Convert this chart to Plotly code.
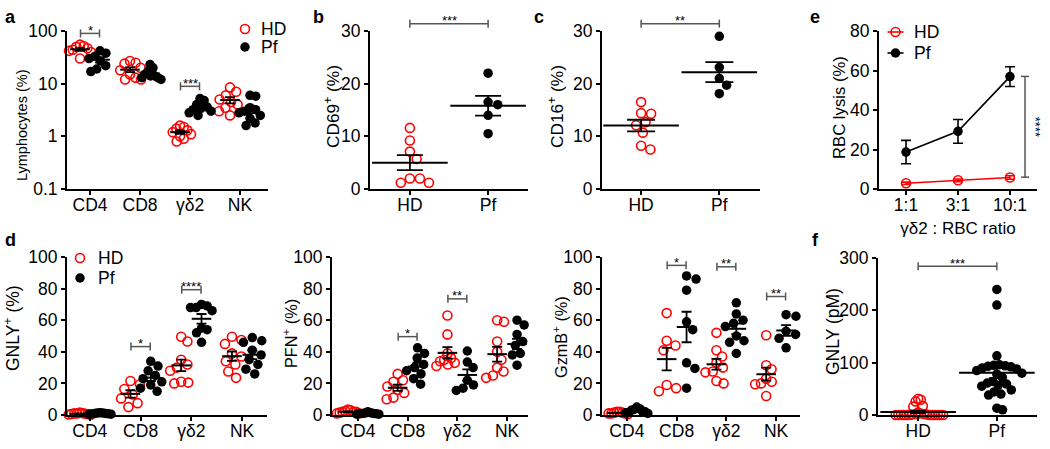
import numpy as np
import plotly.graph_objects as go

W, H = 1050, 449
RED = "#ff0000"
BLACK = "#000000"
GREY = "#555555"
FONT = "Liberation Sans, Arial, Helvetica, sans-serif"

cells = ["CD4", "CD8", "γδ2", "NK"]
donors = ["HD", "Pf"]
ratios = ["1:1", "3:1", "10:1"]

# a: lymphocyte frequencies (%), one list per cell type
lymph_hd = [
    [55, 52, 50, 47, 44, 42, 40, 30],
    [27, 25, 24, 20, 18, 15, 13, 12, 12],
    [1.6, 1.5, 1.4, 1.3, 1.2, 1.1, 1.0, 0.9, 0.8],
    [8.5, 7, 6, 5, 4.5, 4, 3.5, 3, 2.5],
]
lymph_pf = [
    [42, 38, 33, 30, 27, 22, 19, 17],
    [23, 20, 17, 15, 14, 14, 13, 13, 12],
    [5.2, 4.8, 4.0, 3.6, 3.4, 3.2, 3.0, 2.8, 2.5],
    [6, 5.8, 3.5, 3.2, 3, 2.8, 2.5, 2.2, 1.8, 1.6],
]

# b: CD69+ (%)
cd69_hd = [9.2, 11.6, 7.1, 5.7, 2.0, 1.2, 1.2, 2.0]
cd69_pf = [22.0, 16.5, 16.0, 14.0, 10.5]

# c: CD16+ (%)
cd16_hd = [16.5, 14.3, 14.4, 12.1, 12.7, 10.7, 8.2, 7.5]
cd16_pf = [29.0, 23.1, 21.0, 19.7, 18.1]

# e: RBC lysis (%), mean and SEM per effector : target ratio
lysis_hd = [2.9, 4.4, 5.8]
lysis_hd_sem = [0.6, 0.7, 0.9]
lysis_pf = [18.7, 29.2, 56.9]
lysis_pf_sem = [5.9, 6.0, 5.0]

# d: cytotoxic granule proteins (%), one list per cell type
gnly_hd = [
    [0.5, 1.0, 1.5, 0.3, 0.8, 1.2, 0.2, 0.6, 1.0],
    [21.5, 19.5, 16.5, 13, 10.5, 7.5, 5],
    [49.5, 46.5, 35, 32, 30, 28, 21, 20.5, 20],
    [49.5, 47.5, 45, 39, 37, 34, 32, 27.5, 23.5],
]
gnly_pf = [
    [0.5, 1.0, 1.2, 0.8, 1.5, 0.4, 1.0, 0.7, 1.3],
    [34, 31, 28, 25, 23, 21, 19, 17, 15],
    [70, 69, 68, 68, 66, 55, 54, 52, 46],
    [49, 47, 46, 41, 38, 35, 32, 29, 26],
]
pfn_hd = [
    [1, 2, 3, 2.5, 1.5, 2, 1, 3.5, 2],
    [26, 22, 21, 18, 16, 14, 11, 10],
    [63, 51, 39, 36, 35, 34, 33, 32, 31],
    [60, 59, 46.5, 40, 35, 30, 27.5, 25, 23.5],
]
pfn_pf = [
    [1, 0.5, 1.5, 2, 1, 0.5, 1, 0.8, 1.2],
    [42.5, 39, 36, 32, 30, 28, 26, 23, 19.5],
    [40.5, 33.5, 30, 22, 19, 17, 15.5],
    [60, 57, 51, 46.5, 44, 39, 38, 37.5, 31.5],
]
gzmb_hd = [
    [1, 2, 1.5, 1, 0.5, 2, 1, 1.5],
    [64.5, 47, 44, 41, 19, 17, 15],
    [52, 41, 37, 33, 30, 27.5, 27, 21.5, 20],
    [50.5, 31.5, 29, 23, 21, 20, 19.5, 12],
]
gzmb_pf = [
    [5, 4, 3.5, 3, 2.5, 2, 1.5, 1.5, 1],
    [88, 86, 79, 59, 54, 33, 29.5, 17],
    [71, 64, 60, 58, 56, 50, 47, 46, 39],
    [63.5, 62.5, 53, 51, 48.5, 42.5],
]

# f: plasma GNLY (pM)
plasma_hd = [0, 0, 0, 0, 0, 0, 0, 0, 0, 0, 0, 0, 1, 1, 2, 2, 3, 5, 16, 17, 26, 29, 31]
plasma_pf = [240, 210, 113, 96, 95, 94, 93, 92, 90, 88, 85, 80, 78, 72, 64,
             61, 59, 57, 55, 48, 44, 40, 38, 13, 10]

# plot areas in pixels: left, right, top, bottom
P = {
    "a": dict(n=1, box=(67, 268, 31, 189), xr=[-0.46, 3.56], yr=[-1, 2], log=True),
    "b": dict(n=2, box=(370, 528, 31, 189), xr=[-0.51, 1.51], yr=[0, 30]),
    "c": dict(n=3, box=(602, 760, 31, 189), xr=[-0.5, 1.52], yr=[0, 30]),
    "e": dict(n=4, box=(879, 1037, 31, 189), xr=[-0.52, 2.52], yr=[0, 80]),
    "d1": dict(n=5, box=(67, 267, 257, 415), xr=[-0.45, 3.49], yr=[0, 100]),
    "d2": dict(n=6, box=(332, 528, 257, 415), xr=[-0.52, 3.42], yr=[0, 100]),
    "d3": dict(n=7, box=(602, 800, 257, 415), xr=[-0.5, 3.48], yr=[0, 100]),
    "f": dict(n=8, box=(878, 1037, 258, 415), xr=[-0.51, 1.51], yr=[0, 300]),
}

MARK = {
    "HD": dict(symbol="circle-open", size=9, color=RED, line=dict(width=1.6, color=RED)),
    "Pf": dict(symbol="circle", size=9.5, color=BLACK, line=dict(width=0)),
}


def refs(p):
    n = p["n"]
    return ("x", "y") if n == 1 else (f"x{n}", f"y{n}")


def ypx(p, v):
    l, r, t, b = p["box"]
    lo, hi = p["yr"]
    u = np.log10(v) if p.get("log") else v
    return b - (u - lo) / (hi - lo) * (b - t)


def xscale(p):
    l, r, t, b = p["box"]
    return (r - l) / (p["xr"][1] - p["xr"][0])


def swarm(ys, diam, maxw):
    """Greedy beeswarm offsets (pixels) for points at pixel heights ys."""
    offs = np.zeros(len(ys))
    placed = []
    for i in np.argsort(ys):
        y = ys[i]
        near = [(px, py) for px, py in placed if abs(py - y) < diam]
        cands = [0.0]
        for px, py in near:
            dx = np.sqrt(diam ** 2 - (py - y) ** 2)
            cands += [px - dx, px + dx]
        cands.sort(key=lambda c: (round(abs(c), 4), c < 0))
        for c in cands:
            if all((c - px) ** 2 + (y - py) ** 2 >= diam ** 2 - 1e-6 for px, py in near):
                offs[i] = c
                break
        placed.append((offs[i], y))
    m = np.abs(offs).max()
    if m > maxw:
        offs *= maxw / m
    return offs


fig = go.Figure()


def dot_panel(key, groups, maxw, mean_w, cap):
    p = P[key]
    xa, ya = refs(p)
    k = xscale(p)
    for name, lists, pos in groups:
        xs, ys, mx, my, se = [], [], [], [], []
        for vals, c in zip(lists, pos):
            off = swarm([ypx(p, v) for v in vals], 10, maxw)
            xs += list(c + off / k)
            ys += list(vals)
            mx.append(c)
            my.append(np.mean(vals))
            se.append(np.std(vals, ddof=1) / np.sqrt(len(vals)))
        fig.add_trace(go.Scatter(
            x=xs, y=ys, mode="markers", name=name, marker=MARK[name],
            xaxis=xa, yaxis=ya, cliponaxis=False, showlegend=False,
        ))
        fig.add_trace(go.Scatter(
            x=mx, y=my, mode="markers", showlegend=False,
            marker=dict(symbol="line-ew", size=mean_w, color=BLACK,
                        line=dict(width=2, color=BLACK)),
            error_y=dict(type="data", array=se, color=BLACK, thickness=1.8, width=cap),
            xaxis=xa, yaxis=ya, cliponaxis=False,
        ))


shift = 0.2
left = [i - shift for i in range(4)]
right = [i + shift for i in range(4)]

dot_panel("a", [("HD", lymph_hd, left), ("Pf", lymph_pf, right)], 11, 14, 5)
dot_panel("b", [("HD", [cd69_hd], [0]), ("Pf", [cd69_pf], [1])], 20, 54, 13)
dot_panel("c", [("HD", [cd16_hd], [0]), ("Pf", [cd16_pf], [1])], 20, 54, 14)
dot_panel("d1", [("HD", gnly_hd, left), ("Pf", gnly_pf, right)], 11, 14, 5)
dot_panel("d2", [("HD", pfn_hd, left), ("Pf", pfn_pf, right)], 11, 14, 5)
dot_panel("d3", [("HD", gzmb_hd, left), ("Pf", gzmb_pf, right)], 11, 14, 5)
dot_panel("f", [("HD", [plasma_hd], [0]), ("Pf", [plasma_pf], [1])], 25, 54, 8)

# e: lysis curves
xa, ya = refs(P["e"])
for name, m, s, col in [("HD", lysis_hd, lysis_hd_sem, RED), ("Pf", lysis_pf, lysis_pf_sem, BLACK)]:
    fig.add_trace(go.Scatter(
        x=list(range(len(ratios))), y=m, mode="lines+markers", name=name,
        line=dict(color=col, width=1.6), marker=MARK[name],
        error_y=dict(type="data", array=s, color=col, thickness=1.6, width=5),
        xaxis=xa, yaxis=ya, cliponaxis=False, showlegend=False,
    ))

# legend keys, drawn on a page-sized pixel overlay (x, y of each key; text start)
LEG_KEYS = [
    dict(x=245, ys=[29, 47], tx=259, line=False),
    dict(x=80, ys=[258, 278], tx=96, line=False),
    dict(x=895.5, ys=[32, 53], tx=912, line=True),
]
annots = []
for lk in LEG_KEYS:
    for name, yy in zip(donors, lk["ys"]):
        col = RED if name == "HD" else BLACK
        if lk["line"]:
            fig.add_trace(go.Scatter(
                x=[lk["x"] - 8, lk["x"] + 8], y=[yy, yy], mode="lines",
                line=dict(color=col, width=1.6), xaxis="x9", yaxis="y9",
                showlegend=False, hoverinfo="skip",
            ))
        fig.add_trace(go.Scatter(
            x=[lk["x"]], y=[yy], mode="markers", marker=MARK[name],
            xaxis="x9", yaxis="y9", showlegend=False, hoverinfo="skip",
        ))
        annots.append(dict(text=name, xref="paper", yref="paper", x=lk["tx"] / W,
                           y=1 - yy / H, xanchor="left", yanchor="middle",
                           showarrow=False, font=dict(size=17.5, color=BLACK)))

# axes
AX = dict(showline=True, linecolor=BLACK, linewidth=2, ticks="outside", ticklen=4,
          tickwidth=2, tickcolor=BLACK, showgrid=False, zeroline=False,
          tickfont=dict(size=17.5, color=BLACK), fixedrange=True, automargin=False)

# y titles: text, font size, centre (px)
ytitles = {
    "a": ("Lymphocytes (%)", 14.5, (22, 126)),
    "b": ("CD69<sup>+</sup> (%)", 17.3, (332, 107)),
    "c": ("CD16<sup>+</sup> (%)", 17.3, (556, 107)),
    "e": ("RBC lysis (%)", 16.7, (840, 108)),
    "d1": ("GNLY<sup>+</sup> (%)", 17.5, (12, 328)),
    "d2": ("PFN<sup>+</sup> (%)", 16.3, (290, 334)),
    "d3": ("GzmB<sup>+</sup> (%)", 16.3, (560, 337)),
    "f": ("GNLY (pM)", 17.5, (833, 332)),
}
yticks = {
    "a": [0.1, 1, 10, 100], "b": [0, 10, 20, 30], "c": [0, 10, 20, 30],
    "e": [0, 20, 40, 60, 80], "d1": [0, 20, 40, 60, 80, 100],
    "d2": [0, 20, 40, 60, 80, 100], "d3": [0, 20, 40, 60, 80, 100],
    "f": [0, 100, 200, 300],
}
xticks = {
    "a": cells, "b": donors, "c": donors, "e": ratios,
    "d1": cells, "d2": cells, "d3": cells, "f": donors,
}

layout = {}
for key, p in P.items():
    n = p["n"]
    l, r, t, b = p["box"]
    sx = "" if n == 1 else str(n)
    text, size, (tx, ty) = ytitles[key]
    tv = yticks[key]
    ylog = p.get("log", False)
    layout["xaxis" + sx] = dict(
        AX, domain=[l / W, r / W], range=p["xr"], anchor="y" + sx,
        tickvals=list(range(len(xticks[key]))), ticktext=xticks[key],
        ticklabelstandoff=-5,
    )
    layout["yaxis" + sx] = dict(
        AX, domain=[1 - b / H, 1 - t / H], range=p["yr"], anchor="x" + sx,
        type="log" if ylog else "linear",
        tickvals=tv, ticktext=[str(v) for v in tv],
    )
    annots.append(dict(text=text, xref="paper", yref="paper", x=tx / W, y=1 - ty / H,
                       textangle=-90, xanchor="center", yanchor="middle", showarrow=False,
                       font=dict(size=size, color=BLACK)))
layout["xaxis4"]["title"] = dict(text="γδ2 : RBC ratio", font=dict(size=17, color=BLACK), standoff=8)
layout["xaxis9"] = dict(domain=[0, 1], range=[0, W], visible=False, fixedrange=True, anchor="y9")
layout["yaxis9"] = dict(domain=[0, 1], range=[H, 0], visible=False, fixedrange=True, anchor="x9")

# significance brackets
shapes = []
LINE = dict(color=GREY, width=1.5)


def bracket(key, x0, x1, yv, stars, size=13):
    p = P[key]
    xa, _ = refs(p)
    y = ypx(p, yv)
    shapes.append(dict(type="line", xref=xa, yref="paper", x0=x0, x1=x1,
                       y0=1 - y / H, y1=1 - y / H, line=LINE))
    for xx in (x0, x1):
        shapes.append(dict(type="line", xref=xa, yref="paper", x0=xx, x1=xx,
                           y0=1 - (y - 4) / H, y1=1 - (y + 4) / H, line=LINE))
    annots.append(dict(text=stars, xref=xa, yref="paper", x=(x0 + x1) / 2,
                       y=1 - (y - 3) / H, xanchor="center", yanchor="middle",
                       showarrow=False, font=dict(size=size, color=BLACK)))


w = 0.19
bracket("a", 0 - w, 0 + w, 90, "*")
bracket("a", 2 - w, 2 + w, 8.9, "***")
bracket("b", 0, 1, 31.4, "***")
bracket("c", 0, 1, 31.4, "**")
bracket("d1", 1 - w, 1 + w, 43.3, "*")
bracket("d1", 2 - w, 2 + w, 79.3, "****")
bracket("d2", 1 - w, 1 + w, 49.6, "*")
bracket("d2", 2 - w, 2 + w, 73.5, "**")
bracket("d3", 1 - w, 1 + w, 94.7, "*")
bracket("d3", 2 - w, 2 + w, 93.8, "**")
bracket("d3", 3 - w, 3 + w, 75, "**")
bracket("f", 0, 1, 284, "***")

# e: vertical bracket between the 10:1 values
ex = 1025
for yv in (57, 6):
    shapes.append(dict(type="line", xref="paper", yref="y4", x0=(ex - 4) / W, x1=(ex + 4) / W,
                       y0=yv, y1=yv, line=LINE))
shapes.append(dict(type="line", xref="paper", yref="y4", x0=ex / W, x1=ex / W,
                   y0=6, y1=57, line=LINE))
annots.append(dict(text="****", xref="paper", yref="y4", x=1035 / W, y=31.5,
                   textangle=90, showarrow=False, xanchor="center", yanchor="middle",
                   font=dict(size=13, color=BLACK)))

# panel letters
for letter, (lx, ly) in {"a": (10, 17), "b": (318, 17), "c": (539, 17), "e": (815, 17),
                         "d": (10, 240), "f": (815, 240)}.items():
    annots.append(dict(text=f"<b>{letter}</b>", xref="paper", yref="paper",
                       x=lx / W, y=1 - ly / H, xanchor="center", yanchor="middle",
                       showarrow=False, font=dict(size=18, color=BLACK)))

fig.update_layout(
    **layout,
    shapes=shapes,
    annotations=annots,
    width=W, height=H,
    margin=dict(l=0, r=0, t=0, b=0, pad=0, autoexpand=False),
    paper_bgcolor="white",
    plot_bgcolor="rgba(0,0,0,0)",
    font=dict(family=FONT, color=BLACK),
    showlegend=False,
)

fig.write_html(
    "out.html",
    config={"displayModeBar": False},
    post_script="document.body.style.margin='0px';document.body.style.overflow='hidden';"
                "document.documentElement.style.overflow='hidden';",
)
